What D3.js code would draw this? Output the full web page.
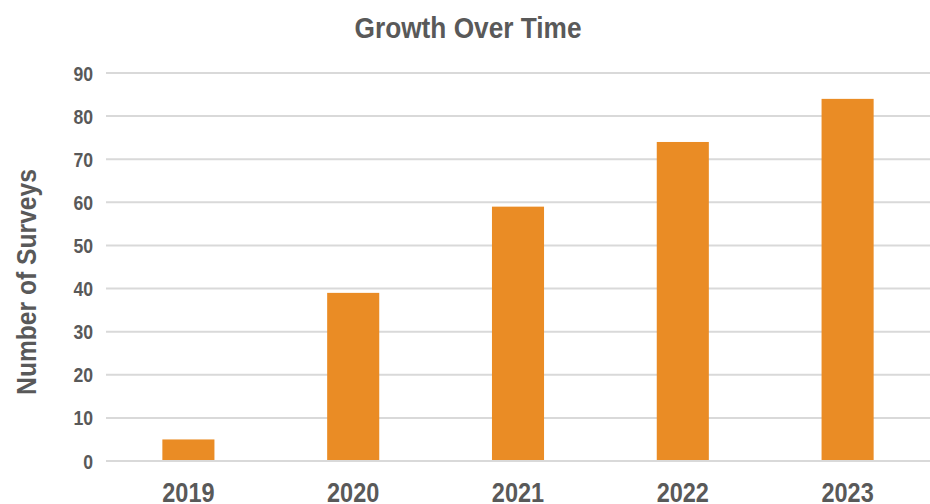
<!DOCTYPE html>
<html lang="en">
<head>
  <meta charset="UTF-8">
  <title>Growth Over Time</title>
  <script src="https://d3js.org/d3.v7.min.js"></script>
  <style>
    body { margin: 0; background: white; }
    text { font-family: "Liberation Sans", Arial, sans-serif; font-weight: bold; fill: #595959; }
    .grid line { stroke: #d9d9d9; stroke-width: 2px; }
  </style>
</head>
<body>
  <svg id="chart" width="930" height="504"></svg>
  <script>
    // data
    const years = ["2019", "2020", "2021", "2022", "2023"];
    const surveys = [5, 39, 59, 74, 84];
    const yTicks = [0, 10, 20, 30, 40, 50, 60, 70, 80, 90];

    const svg = d3.select("#chart");
    const margin = { top: 73, right: 0, bottom: 43, left: 106 };
    const width = 930, height = 504;
    const narrow = 0.84; // squeeze text to look like a narrow font

    const x = d3.scaleBand()
      .domain(years)
      .range([margin.left, width - margin.right])
      .paddingInner(0.684)
      .paddingOuter(0.342);

    const y = d3.scaleLinear()
      .domain([0, 90])
      .range([height - margin.bottom, margin.top]);

    // gridlines
    svg.append("g").attr("class", "grid")
      .selectAll("line").data(yTicks)
      .join("line")
      .attr("x1", margin.left)
      .attr("x2", width)
      .attr("y1", d => y(d))
      .attr("y2", d => y(d));

    // bars
    svg.append("g").selectAll("rect")
      .data(years)
      .join("rect")
      .attr("x", d => x(d))
      .attr("width", x.bandwidth())
      .attr("y", (d, i) => y(surveys[i]))
      .attr("height", (d, i) => y(0) - y(surveys[i]) - 1)
      .attr("fill", "#ea8c25");

    // y tick labels
    svg.append("g").selectAll("text")
      .data(yTicks)
      .join("text")
      .attr("transform", d => "translate(93," + y(d) + ") scale(" + narrow + ",1)")
      .attr("dy", "0.36em")
      .attr("text-anchor", "end")
      .style("font-size", "21px")
      .text(d => d);

    // x labels
    svg.append("g").selectAll("text")
      .data(years)
      .join("text")
      .attr("transform", d => "translate(" + (x(d) + x.bandwidth() / 2) + ",502) scale(" + narrow + ",1)")
      .attr("text-anchor", "middle")
      .style("font-size", "28px")
      .text(d => d);

    // title
    svg.append("text")
      .attr("transform", "translate(468,38) scale(0.875,1)")
      .attr("text-anchor", "middle")
      .style("font-size", "30px")
      .text("Growth Over Time");

    // y axis title
    svg.append("text")
      .attr("transform", "translate(36," + ((y(0) + y(90)) / 2 + 15) + ") rotate(-90) scale(0.88,1)")
      .attr("text-anchor", "middle")
      .style("font-size", "28px")
      .text("Number of Surveys");
  </script>
</body>
</html>
